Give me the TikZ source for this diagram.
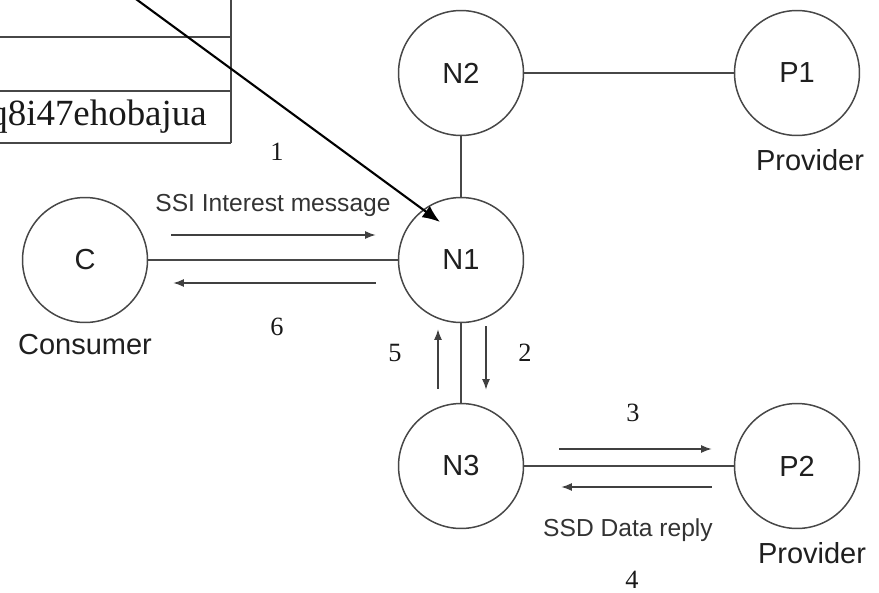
\documentclass[tikz,border=0pt]{standalone}
\usepackage{fontspec}
\setmainfont{Liberation Serif}
\newfontfamily\nodefont{Liberation Sans}
\usetikzlibrary{positioning,arrows.meta,calc}

\begin{document}
\begin{tikzpicture}[x=0.02cm, y=-0.02cm,
  peer/.style={draw=black!72, line width=0.85pt, circle, minimum size=2.5cm, inner sep=0pt,
    font=\nodefont\fontsize{16.5}{18}\selectfont, text=black!88},
  link/.style={draw=black!72, line width=0.85pt},
  msg/.style={-{Latex[length=6pt,width=4.5pt]}, draw=black!75, line width=0.85pt},
  pointer/.style={-{Latex[length=10pt,width=8pt]}, draw=black, line width=1.2pt},
  tablerule/.style={draw=black!72, line width=0.85pt},
  role/.style={font=\nodefont\fontsize{16.5}{18}\selectfont, text=black!88},
  note/.style={font=\nodefont\fontsize{14}{16}\selectfont, text=black!80},
  stepno/.style={font=\fontsize{15}{17}\selectfont, text=black!90}]
  \useasboundingbox (0,0) rectangle (879,592);
  \clip (0,0) rectangle (879,592);

  % piece of the record table
  \draw[tablerule] (-10,37) -- (231,37);
  \draw[tablerule] (-10,91) -- (231,91);
  \draw[tablerule] (-10,143) -- (231,143);
  \draw[tablerule] (231,-10) -- (231,143);
  \node[anchor=base east, inner sep=0pt, font=\fontsize{21}{24}\selectfont, text=black!90] (hash) at (207,125) {q8i47ehobajua};

  % nodes
  \node[peer] (C) at (85,260) {C};
  \node[peer] (N1) at (461,260) {N1};
  \node[peer] (N2) at (461,73) {N2};
  \node[peer] (P1) at (797,73) {P1};
  \node[peer] (N3) at (461,466) {N3};
  \node[peer] (P2) at (797,466) {P2};

  \node[role] (consumer) at (85,345) {Consumer};
  \node[role] (prov1) at (810,160) {Provider};
  \node[role] (prov2) at (812,553) {Provider};

  % links
  \draw[link] (C) -- (N1);
  \draw[link] (N1) -- (N2);
  \draw[link] (N2) -- (P1);
  \draw[link] (N1) -- (N3);
  \draw[link] (N3) -- (P2);

  % messages
  \draw[msg] ([shift={(23,-25)}]C.east) -- ([shift={(-22,-25)}]N1.west);
  \draw[msg] ([shift={(-22,23)}]N1.west) -- ([shift={(25,23)}]C.east);
  \draw[msg] ([shift={(25,3)}]N1.south) -- ([shift={(25,-13)}]N3.north);
  \draw[msg] ([shift={(-23,-14)}]N3.north) -- ([shift={(-23,6)}]N1.south);
  \draw[msg] ([shift={(35,-17)}]N3.east) -- ([shift={(-22,-17)}]P2.west);
  \draw[msg] ([shift={(-22,21)}]P2.west) -- ([shift={(37,21)}]N3.east);

  \node[note] (interest) at (273,205) {SSI Interest message};
  \node[note] (reply) at (628,530) {SSD Data reply};

  \node[stepno] (s1) at (277,152) {1};
  \node[stepno] (s2) at (525,353) {2};
  \node[stepno] (s3) at (633,413) {3};
  \node[stepno] (s4) at (632,580) {4};
  \node[stepno] (s5) at (395,353) {5};
  \node[stepno] (s6) at (277,327) {6};

  % lookup pointer into N1
  \coordinate (src) at (110,-20);
  \coordinate (tip) at ([shift={(-21,-38)}]N1.center);
  \draw[pointer] (src) -- (tip);
\end{tikzpicture}
\end{document}
